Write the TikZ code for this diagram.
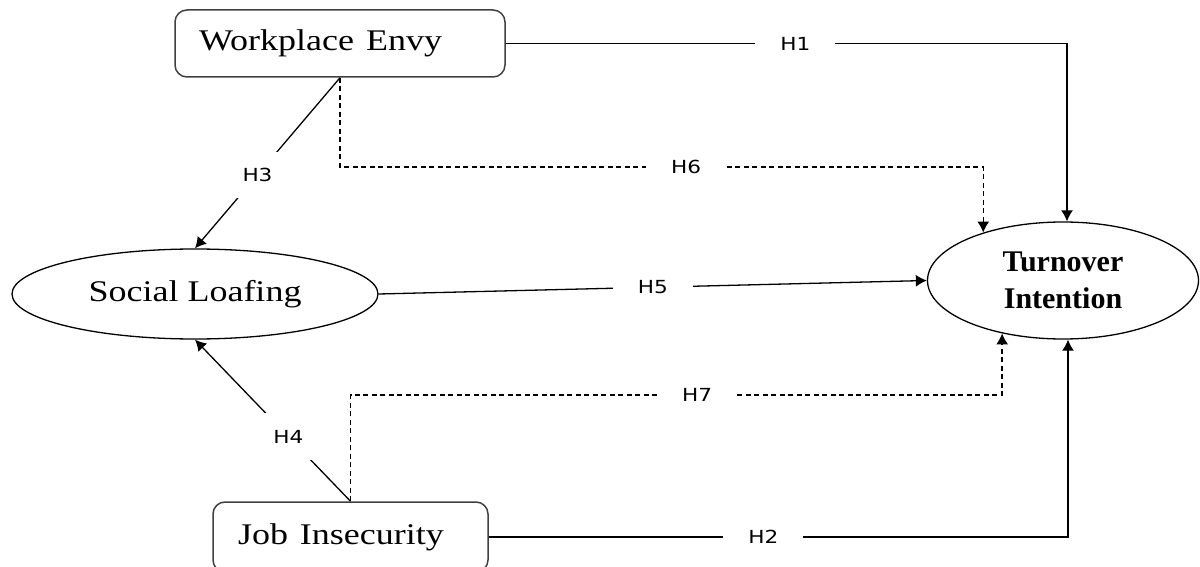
\documentclass[tikz,border=0pt]{standalone}
\usepackage{fontspec}
\usepackage{graphicx}
\setmainfont{Liberation Serif}
\newfontfamily\hfont{DejaVu Sans}
\usetikzlibrary{arrows.meta,shapes.geometric}
\newcommand{\wide}[1]{\scalebox{1.2}[1]{#1}}
\begin{document}
\begin{tikzpicture}[x=1pt,y=-1pt,
  line width=1.3pt,
  boxn/.style={draw=black!75, line width=1.5pt, rounded corners=12pt, inner ysep=0pt, align=left,
    font=\fontsize{30}{36}\selectfont},
  ell/.style={draw, ellipse, inner sep=0pt, line width=1.3pt},
  hl/.style={fill=white, inner xsep=25pt, inner ysep=2pt, font=\hfont\fontsize{18}{20}\selectfont},
  arr/.style={-{Latex[length=11pt,width=12pt]}},
  dsh/.style={dash pattern=on 5pt off 3.5pt},
]
\useasboundingbox (0,0) rectangle (1200,567);
\clip (0,0) rectangle (1200,567);

\node[boxn, text width=282pt, inner xsep=24pt, minimum height=67pt] (we) at (340,43.5) {\wide{Workplace Envy}};
\node[boxn, text width=225pt, inner xsep=25pt, minimum height=70pt] (ji) at (350.5,537) {\wide{Job Insecurity}};
\node[ell, minimum width=366pt, minimum height=90pt, font=\fontsize{30}{36}\selectfont] (sl) at (195,294) {\wide{Social Loafing}};
\node[ell, minimum width=271pt, minimum height=117pt, align=center,
  font=\bfseries\fontsize{30}{37}\selectfont] (to) at (1063,280.5) {Turnover\\Intention};

\coordinate (t1) at ([xshift=4pt]to.north);
\coordinate (t2) at ([xshift=5pt]to.south);
\coordinate (t6) at (to.149);
\coordinate (t7) at (to.221);

% H1
\draw[arr] (we.east) -| (t1) node[hl, pos=0.258] {\wide{H1}};
% H2
\draw[arr] (ji.east) -| (t2) node[hl, pos=0.237] {\wide{H2}};
% H3
\draw[arr] (we.south) -- (sl.north) node[hl, pos=0.569, inner sep=16pt] {\wide{H3}};
% H4
\draw[arr] (ji.north) -- (sl.south) node[hl, pos=0.4, inner sep=17pt] {\wide{H4}};
% H5
\draw[arr] (sl.east) -- (to.west) node[hl, pos=0.5] {\wide{H5}};
% H6
\draw[arr, dsh] (we.south) |- (t6 |- 0,167) node[hl, pos=0.769] {\wide{H6}} -- (t6);
% H7
\draw[arr, dsh] (ji.north) |- (t7 |- 0,395) node[hl, pos=0.766] {\wide{H7}} -- (t7);
\end{tikzpicture}
\end{document}
